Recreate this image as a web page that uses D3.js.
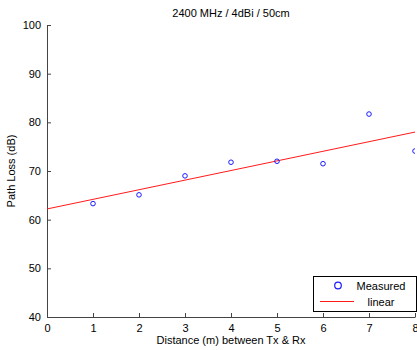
<!DOCTYPE html>
<html>
<head>
<meta charset="utf-8">
<script src="https://cdn.jsdelivr.net/npm/d3@7"></script>
<style>
body { margin: 0; background: #fff; }
svg { display: block; font-family: "Liberation Sans", Arial, sans-serif; }
</style>
</head>
<body>
<div id="chart"></div>
<script>
// measured path loss
var distances = [1, 2, 3, 4, 5, 6, 7, 8];
var pathLoss = [63.3, 65.1, 69.0, 71.8, 72.0, 71.5, 81.7, 74.1];
// linear fit endpoints
var fitX = [0, 8];
var fitY = [62.2, 78.0];
var xTicks = [0, 1, 2, 3, 4, 5, 6, 7, 8];
var yTicks = [40, 50, 60, 70, 80, 90, 100];

var W = 417, H = 350;
var margin = {left: 47, top: 25, right: 2, bottom: 33};

var svg = d3.select("#chart").append("svg")
  .attr("width", W).attr("height", H);

var x = d3.scaleLinear().domain([0, 8]).range([margin.left, W - margin.right]);
var y = d3.scaleLinear().domain([40, 100]).range([H - margin.bottom, margin.top]);

var clip = svg.append("clipPath").attr("id", "clip")
  .append("rect")
  .attr("x", margin.left).attr("y", margin.top)
  .attr("width", W - margin.right - margin.left)
  .attr("height", H - margin.bottom - margin.top);

var axisColor = "#444";

// y axis (ticks inward)
var yAxis = svg.append("g")
  .attr("transform", "translate(" + margin.left + ",0)")
  .call(d3.axisLeft(y).tickValues(yTicks).tickSizeInner(-4).tickSizeOuter(0).tickPadding(6));
// x axis
var xAxis = svg.append("g")
  .attr("transform", "translate(0," + (H - margin.bottom) + ")")
  .call(d3.axisBottom(x).tickValues(xTicks).tickSizeInner(-4).tickSizeOuter(0).tickPadding(7));

[yAxis, xAxis].forEach(function(a) {
  a.select(".domain").attr("stroke", axisColor);
  a.selectAll(".tick line").attr("stroke", axisColor);
  a.selectAll(".tick text").attr("fill", "#000").style("font-size", "11px");
});

var plot = svg.append("g").attr("clip-path", "url(#clip)");

// fit line
var line = d3.line().x(function(d) { return x(d[0]); }).y(function(d) { return y(d[1]); });
plot.append("path")
  .datum(d3.zip(fitX, fitY))
  .attr("d", line)
  .attr("fill", "none")
  .attr("stroke", "#ff1a1a")
  .attr("stroke-width", 1);

// measured points
plot.selectAll("circle.pt")
  .data(d3.zip(distances, pathLoss))
  .enter().append("circle")
  .attr("class", "pt")
  .attr("cx", function(d) { return x(d[0]); })
  .attr("cy", function(d) { return y(d[1]); })
  .attr("r", 2.3)
  .attr("fill", "none")
  .attr("stroke", "#1a1aff")
  .attr("stroke-width", 1);

// title & labels
svg.append("text")
  .attr("x", (x(0) + x(8)) / 2).attr("y", 17)
  .attr("text-anchor", "middle")
  .style("font-size", "11px")
  .text("2400 MHz / 4dBi / 50cm");

svg.append("text")
  .attr("transform", "translate(15," + ((y(40) + y(100)) / 2) + ") rotate(-90)")
  .attr("text-anchor", "middle")
  .style("font-size", "11px")
  .text("Path Loss (dB)");

svg.append("text")
  .attr("x", (x(0) + x(8)) / 2).attr("y", 344)
  .attr("text-anchor", "middle")
  .style("font-size", "11px")
  .text("Distance (m) between Tx & Rx");

// legend
var lg = svg.append("g").attr("transform", "translate(313,276)");
lg.append("rect")
  .attr("x", 0.5).attr("y", 0.5).attr("width", 103).attr("height", 35)
  .attr("fill", "#fff").attr("stroke", "#000").attr("stroke-width", 1);
lg.append("circle")
  .attr("cx", 25).attr("cy", 9.5).attr("r", 3.3)
  .attr("fill", "none").attr("stroke", "#1a1aff").attr("stroke-width", 1.2);
lg.append("text").attr("x", 68).attr("y", 14)
  .attr("text-anchor", "middle").style("font-size", "11px").text("Measured");
lg.append("line")
  .attr("x1", 7).attr("x2", 41).attr("y1", 25.5).attr("y2", 25.5)
  .attr("stroke", "#ff1a1a").attr("stroke-width", 1);
lg.append("text").attr("x", 68).attr("y", 30)
  .attr("text-anchor", "middle").style("font-size", "11px").text("linear");
</script>
</body>
</html>
